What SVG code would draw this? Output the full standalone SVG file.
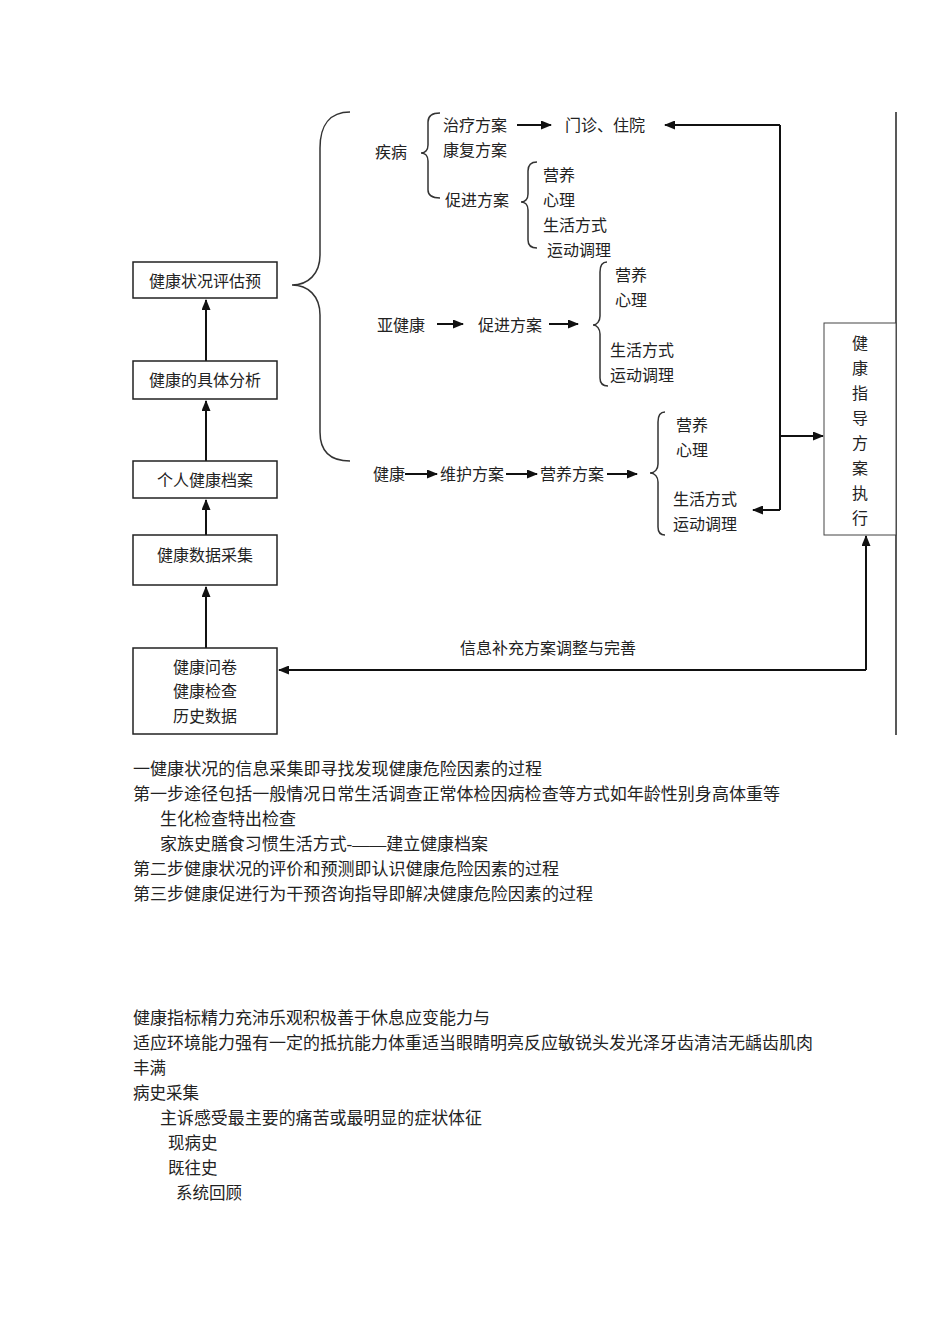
<svg xmlns="http://www.w3.org/2000/svg" width="950" height="1344" viewBox="0 0 950 1344">
<style>
text{font-family:"Liberation Serif","Noto Sans CJK SC",serif;font-size:16px;fill:#222;dominant-baseline:central}
.box{fill:#fff;stroke:#222;stroke-width:1.5}
.ln{fill:none;stroke:#111;stroke-width:2}
.br{fill:none;stroke:#333;stroke-width:1.5}
.p{font-size:16.5px}
.m{text-anchor:middle}
</style>
<defs>
<marker id="ah" markerUnits="userSpaceOnUse" markerWidth="11" markerHeight="9" refX="10" refY="4.5" orient="auto">
<path d="M0,0 L11,4.5 L0,9 z" fill="#111"/>
</marker>
</defs>
<rect width="950" height="1344" fill="#fff"/>

<g id="connectors">
<line x1="896" y1="112" x2="896" y2="735" stroke="#222" stroke-width="1.5"/>
<path class="ln" d="M206,648 L206,587" marker-end="url(#ah)"/>
<path class="ln" d="M206,535 L206,500" marker-end="url(#ah)"/>
<path class="ln" d="M206,461 L206,401" marker-end="url(#ah)"/>
<path class="ln" d="M206,361 L206,300" marker-end="url(#ah)"/>
<path class="ln" d="M517,125 L551,125" marker-end="url(#ah)"/>
<path class="ln" d="M780,125 L665,125" marker-end="url(#ah)"/>
<path class="ln" d="M780,125 L780,510"/>
<path class="ln" d="M780,510 L753,510" marker-end="url(#ah)"/>
<path class="ln" d="M780,436 L823,436" marker-end="url(#ah)"/>
<path class="ln" d="M437,324 L463,324" marker-end="url(#ah)"/>
<path class="ln" d="M549,324 L578,324" marker-end="url(#ah)"/>
<path class="ln" d="M405,474 L437,474" marker-end="url(#ah)"/>
<path class="ln" d="M506,474 L537,474" marker-end="url(#ah)"/>
<path class="ln" d="M607,474 L637,474" marker-end="url(#ah)"/>
<path class="ln" d="M866,670 L866,536" marker-end="url(#ah)"/>
<path class="ln" d="M866,670 L279,670" marker-end="url(#ah)"/>
<text x="460" y="648">信息补充方案调整与完善</text>
</g>

<g id="braces">
<path class="br" d="M350,112 C330,112 320,125 320,148 L320,255 C320,274 308,285 292,285 C308,285 320,296 320,315 L320,432 C320,452 330,461 350,461"/>
<path class="br" d="M440,113 C432,113 428,116 428,122 L428,145 C428,150 425,153 421,153 C425,153 428,156 428,161 L428,190 C428,195 432,198 440,198"/>
<path class="br" d="M537,162 C531,162 528,165 528,171 L528,194 C528,199 525,202 521,202 C525,202 528,205 528,210 L528,240 C528,245 531,248 537,248"/>
<path class="br" d="M607,262 C602,262 600,266 600,272 L600,316 C600,321 597,325 593,325 C597,325 600,329 600,334 L600,378 C600,383 602,386 608,386"/>
<path class="br" d="M665,412 C660,412 658,416 658,422 L658,464 C658,469 655,473 650,473 C655,473 658,477 658,482 L658,527 C658,532 660,535 665,535"/>
</g>

<g id="n-assess"><rect class="box" x="133" y="262" width="144" height="36"/><text class="m" x="205" y="281">健康状况评估预</text></g>
<g id="n-analysis"><rect class="box" x="133" y="361" width="144" height="38"/><text class="m" x="205" y="380">健康的具体分析</text></g>
<g id="n-record"><rect class="box" x="133" y="461" width="144" height="37"/><text class="m" x="205" y="480">个人健康档案</text></g>
<g id="n-collect"><rect class="box" x="133" y="535" width="144" height="50"/><text class="m" x="205" y="555">健康数据采集</text></g>
<g id="n-source"><rect class="box" x="133" y="648" width="144" height="86"/>
<text class="m" x="205" y="667">健康问卷</text><text class="m" x="205" y="691">健康检查</text><text class="m" x="205" y="716">历史数据</text></g>
<g id="n-exec"><rect x="824" y="323" width="72" height="212" fill="#fff" stroke="#444" stroke-width="1"/>
<text class="m" x="860" y="343">健</text><text class="m" x="860" y="368">康</text><text class="m" x="860" y="393">指</text><text class="m" x="860" y="418">导</text><text class="m" x="860" y="443">方</text><text class="m" x="860" y="468">案</text><text class="m" x="860" y="493">执</text><text class="m" x="860" y="518">行</text></g>

<g id="n-disease">
<text x="375" y="152">疾病</text>
<text x="443" y="125">治疗方案</text>
<text x="443" y="150">康复方案</text>
<text x="445" y="200">促进方案</text>
<text x="565" y="125">门诊、住院</text>
<text x="543" y="175">营养</text>
<text x="543" y="200">心理</text>
<text x="543" y="225">生活方式</text>
<text x="547" y="250">运动调理</text>
</g>
<g id="n-subhealth">
<text x="377" y="325">亚健康</text>
<text x="478" y="325">促进方案</text>
<text x="615" y="275">营养</text>
<text x="615" y="300">心理</text>
<text x="610" y="350">生活方式</text>
<text x="610" y="375">运动调理</text>
</g>
<g id="n-health">
<text x="373" y="474">健康</text>
<text x="440" y="474">维护方案</text>
<text x="540" y="474">营养方案</text>
<text x="676" y="425">营养</text>
<text x="676" y="450">心理</text>
<text x="673" y="499">生活方式</text>
<text x="673" y="524">运动调理</text>
</g>

<g id="notes">
<text class="p" x="133" y="769" textLength="409" lengthAdjust="spacingAndGlyphs">一健康状况的信息采集即寻找发现健康危险因素的过程</text>
<text class="p" x="133" y="794" textLength="647" lengthAdjust="spacingAndGlyphs">第一步途径包括一般情况日常生活调查正常体检因病检查等方式如年龄性别身高体重等</text>
<text class="p" x="160" y="819" textLength="136" lengthAdjust="spacingAndGlyphs">生化检查特出检查</text>
<text class="p" x="160" y="844" textLength="328" lengthAdjust="spacingAndGlyphs">家族史膳食习惯生活方式-——建立健康档案</text>
<text class="p" x="133" y="869" textLength="426" lengthAdjust="spacingAndGlyphs">第二步健康状况的评价和预测即认识健康危险因素的过程</text>
<text class="p" x="133" y="894" textLength="460" lengthAdjust="spacingAndGlyphs">第三步健康促进行为干预咨询指导即解决健康危险因素的过程</text>
<text class="p" x="133" y="1018" textLength="357" lengthAdjust="spacingAndGlyphs">健康指标精力充沛乐观积极善于休息应变能力与</text>
<text class="p" x="133" y="1043" textLength="680" lengthAdjust="spacingAndGlyphs">适应环境能力强有一定的抵抗能力体重适当眼睛明亮反应敏锐头发光泽牙齿清洁无龋齿肌肉</text>
<text class="p" x="133" y="1068">丰满</text>
<text class="p" x="133" y="1093">病史采集</text>
<text class="p" x="160" y="1118" textLength="322" lengthAdjust="spacingAndGlyphs">主诉感受最主要的痛苦或最明显的症状体征</text>
<text class="p" x="168" y="1143">现病史</text>
<text class="p" x="168" y="1168">既往史</text>
<text class="p" x="176" y="1193">系统回顾</text>
</g>
</svg>
